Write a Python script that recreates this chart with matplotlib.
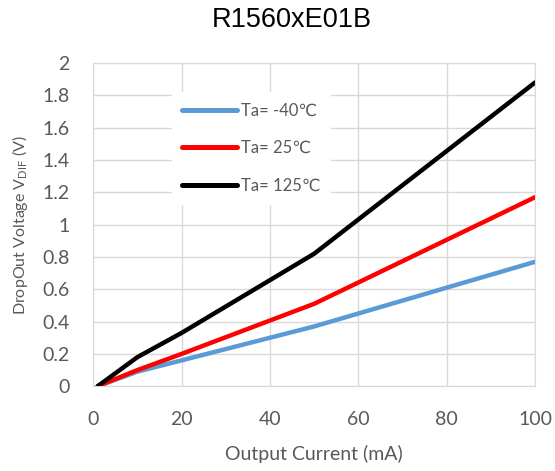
import matplotlib.pyplot as plt

# Output current (mA) and dropout voltage (V)
current = [1, 10, 20, 50, 100]
v_m40 = [0.0, 0.09, 0.16, 0.37, 0.77]
v_25 = [0.0, 0.10, 0.20, 0.51, 1.17]
v_125 = [0.0, 0.18, 0.33, 0.82, 1.88]
labels = ['Ta= -40℃', 'Ta= 25℃', 'Ta= 125℃']

plt.rcParams['font.family'] = ['Lato', 'DejaVu Sans']
gray = '#595959'

fig = plt.figure(figsize=(5.55, 4.71), dpi=100)
ax = fig.add_axes([0.168, 0.180, 0.796, 0.686])

ax.plot(current, v_m40, color='#5b9bd5', lw=3.2, label=labels[0], solid_capstyle='round')
ax.plot(current, v_25, color='#ff0000', lw=3.2, label=labels[1], solid_capstyle='round')
ax.plot(current, v_125, color='#000000', lw=3.2, label=labels[2], solid_capstyle='round')

ax.set_xlim(0, 100)
ax.set_ylim(0, 2)
ax.set_xticks(range(0, 101, 20))
ax.set_yticks([i / 5 for i in range(11)])
ax.set_yticklabels(['0', '0.2', '0.4', '0.6', '0.8', '1', '1.2', '1.4', '1.6', '1.8', '2'])
ax.tick_params(length=0, labelsize=14, labelcolor=gray)
ax.tick_params(axis='x', pad=18)
ax.tick_params(axis='y', pad=17)
ax.grid(color='#d9d9d9', lw=1)
ax.set_axisbelow(True)
for s in ax.spines.values():
    s.set_color('#d9d9d9')

ax.set_xlabel('Output Current (mA)', fontsize=14, color=gray, labelpad=12)
ax.set_ylabel(r'DropOut Voltage V$_{\mathregular{DIF}}$ (V)', fontsize=11.5, color=gray, labelpad=9)
fig.suptitle('R1560xE01B', fontsize=19.5, x=0.526, y=0.985, family='Liberation Sans')

leg = ax.legend(loc='upper left', bbox_to_anchor=(0.159, 0.935), frameon=True, fancybox=False,
                edgecolor='white', framealpha=1, fontsize=12, handlelength=3.3,
                labelspacing=1.3, handletextpad=0.25, borderpad=0.6)
for t in leg.get_texts():
    t.set_color(gray)
for h in leg.get_lines():
    h.set_linewidth(3.6)

plt.savefig('out.png', dpi=100)
